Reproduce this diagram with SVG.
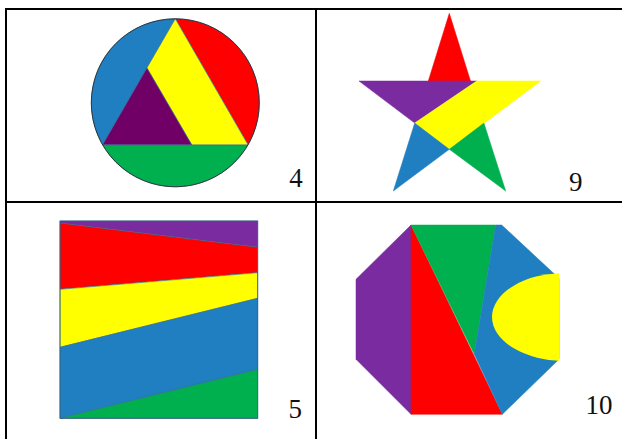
<svg xmlns="http://www.w3.org/2000/svg" width="622" height="439" viewBox="0 0 622 439">
<style>
.grid{stroke:#000;stroke-width:2;fill:none}
.lbl{font-family:"Liberation Serif","DejaVu Serif",serif;font-size:27px;fill:#111;text-anchor:middle}
.b{fill:#1f7fc0}.r{fill:#ff0000}.y{fill:#ffff00}.g{fill:#00b04f}.p{fill:#7b2ba0}.pd{fill:#700066}
.e{stroke:#2f6a96;stroke-width:0.6;stroke-linejoin:round}
.s{stroke-width:0.5;stroke-linejoin:round}
.s.b{stroke:#1f7fc0}.s.r{stroke:#ff0000}.s.y{stroke:#ffff00}.s.g{stroke:#00b04f}.s.p{stroke:#7b2ba0}
</style>
<defs>
<clipPath id="octR"><rect x="480" y="260" width="79" height="110"/></clipPath>
</defs>
<rect width="622" height="439" fill="#fff"/>
<g id="table">
<line class="grid" x1="6" y1="9" x2="622" y2="9"/>
<line class="grid" x1="6" y1="8" x2="6" y2="439"/>
<line class="grid" x1="316" y1="8" x2="316" y2="439"/>
<line class="grid" x1="6" y1="202" x2="622" y2="202"/>
</g>
<g id="panel4">
<path class="b e" d="M175.3,18.8 A84,84 0 0 0 102.6,144.8 Z"/>
<path class="r e" d="M175.3,18.8 A84,84 0 0 1 248,144.8 Z"/>
<path class="g e" d="M102.6,144.8 A84,84 0 0 0 248,144.8 Z"/>
<polygon class="y e" points="175.3,18.8 146.9,67.9 191.7,144.8 248,144.8"/>
<polygon class="pd e" points="146.9,67.9 102.6,144.8 191.7,144.8"/>
<circle cx="175.3" cy="102.8" r="84" fill="none" stroke="#222" stroke-width="0.8"/>
<text class="lbl" x="296" y="187">4</text>
</g>
<g id="panel9">
<polygon class="r s" points="449.3,13.3 428.3,81 470.5,81"/>
<polygon class="p s" points="359,81 476.7,81 414.7,123.1"/>
<polygon class="y s" points="476.7,81 540.7,81 449.3,149.3 414.7,123.1"/>
<polygon class="b s" points="414.7,123.1 449.3,149.3 393.3,191"/>
<polygon class="g s" points="449.3,149.3 483.9,123.1 505.7,191"/>
<text class="lbl" x="575.7" y="191">9</text>
</g>
<g id="panel5">
<polygon class="p e" points="60,221 257.7,221 257.7,247.3 60,223"/>
<polygon class="r e" points="60,223 257.7,247.3 257.7,272.7 60,289.3"/>
<polygon class="y e" points="60,289.3 257.7,272.7 257.7,298.3 60,347.3"/>
<polygon class="b e" points="60,347.3 257.7,298.3 257.7,369.3 60,418.3"/>
<polygon class="g e" points="60,418.3 257.7,369.3 257.7,418.3"/>
<rect x="60" y="221" width="197.7" height="197.3" fill="none" stroke="#2f5f7a" stroke-width="0.8"/>
<text class="lbl" x="295.3" y="418">5</text>
</g>
<g id="panel10">
<polygon class="p s" points="411,225 356,279.3 356,359.3 411,414.3"/>
<polygon class="r s" points="411,225 502.3,414.3 411,414.3"/>
<polygon class="g s" points="411,225 495.7,225 474.3,354.3"/>
<polygon class="b s" points="495.7,225 501.7,225 559,278.3 559,359.3 502.3,414.3 474.3,354.3"/>
<ellipse class="y" cx="565" cy="317" rx="73" ry="44" clip-path="url(#octR)"/>
<text class="lbl" x="599" y="414.3">10</text>
</g>
</svg>
